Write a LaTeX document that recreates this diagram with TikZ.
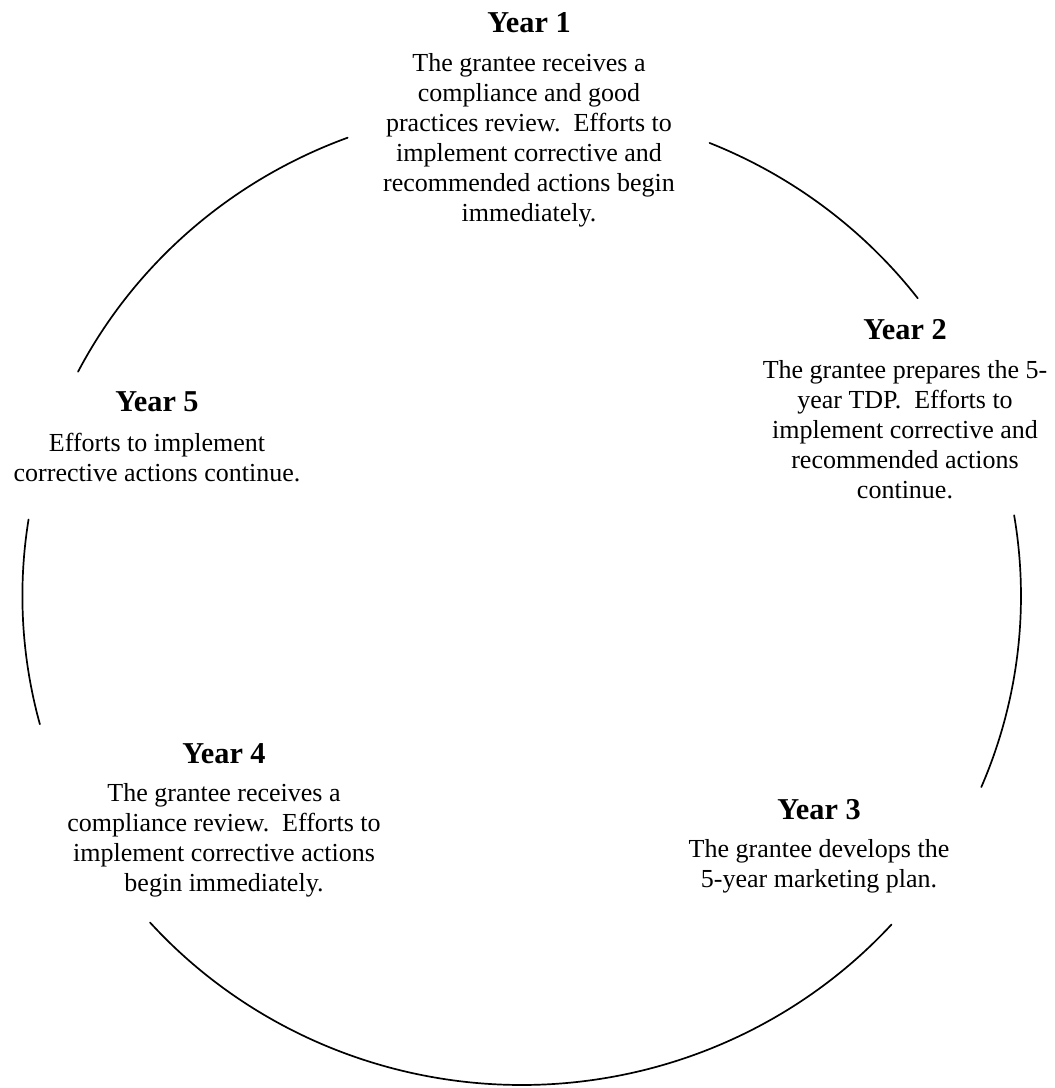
\documentclass[tikz,border=0pt]{standalone}
\usepackage{fontspec}
\setmainfont{Liberation Serif}
\usetikzlibrary{calc}
\begin{document}
\begin{tikzpicture}[x=1pt,y=1pt,
  yeartitle/.style={font=\fontsize{30.3}{35}\selectfont\bfseries, inner sep=0pt, anchor=base},
  yearbody/.style={font=\fontsize{26}{30}\selectfont, align=center, inner sep=0pt, anchor=base},
  ring/.style={line width=1.7pt, line cap=round}]
\useasboundingbox (0,0) rectangle (1055,1088);
\coordinate (C) at (521.7,492);
\def\ra{499.3}\def\rb{489}
% text blocks (body nodes anchored at the baseline of their last line)
\node[yeartitle] (t1) at (529,1055) {Year 1};
\node[yearbody] (b1) at (529,866) {The grantee receives a\\compliance and good\\practices review.\ \ Efforts to\\implement corrective and\\recommended actions begin\\immediately.};
\node[yeartitle] (t2) at (905,748) {Year 2};
\node[yearbody] (b2) at (905,589) {The grantee prepares the 5-\\year TDP.\ \ Efforts to\\implement corrective and\\recommended actions\\continue.};
\node[yeartitle] (t3) at (819,268) {Year 3};
\node[yearbody] (b3) at (819,200) {The grantee develops the\\5-year marketing plan.};
\node[yeartitle] (t4) at (224,324) {Year 4};
\node[yearbody] (b4) at (224,196) {The grantee receives a\\compliance review.\ \ Efforts to\\implement corrective actions\\begin immediately.};
\node[yeartitle] (t5) at (157,676) {Year 5};
\node[yearbody] (b5) at (157,606) {Efforts to implement\\corrective actions continue.};
% ring arcs
\draw[ring] ($(C)+(110.4:\ra pt and \rb pt)$) arc[start angle=110.4, end angle=152.7, x radius=\ra pt, y radius=\rb pt];
\draw[ring] ($(C)+(37.5:\ra pt and \rb pt)$) arc[start angle=37.5, end angle=67.9, x radius=\ra pt, y radius=\rb pt];
\draw[ring] ($(C)+(-23:\ra pt and \rb pt)$) arc[start angle=-23, end angle=9.5, x radius=\ra pt, y radius=\rb pt];
\draw[ring] ($(C)+(221.9:\ra pt and \rb pt)$) arc[start angle=221.9, end angle=317.8, x radius=\ra pt, y radius=\rb pt];
\draw[ring] ($(C)+(171:\ra pt and \rb pt)$) arc[start angle=171, end angle=195.2, x radius=\ra pt, y radius=\rb pt];
\end{tikzpicture}
\end{document}
